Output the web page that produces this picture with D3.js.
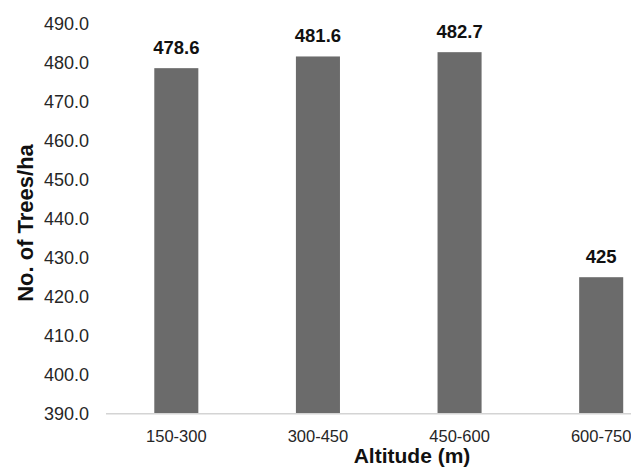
<!DOCTYPE html>
<html>
<head>
<meta charset="utf-8">
<script src="https://cdn.jsdelivr.net/npm/d3@7"></script>
<style>
  html, body { margin: 0; padding: 0; background: #fff; }
  svg { display: block; font-family: "Liberation Sans", Arial, sans-serif; }
</style>
</head>
<body>
<svg id="chart" width="631" height="467"></svg>
<script>
const categories = ["150-300", "300-450", "450-600", "600-750"];
const values = [478.6, 481.6, 482.7, 425];
const valueLabels = ["478.6", "481.6", "482.7", "425"];
const yTicks = [390, 400, 410, 420, 430, 440, 450, 460, 470, 480, 490];
const xTitle = "Altitude (m)";
const yTitle = "No. of Trees/ha";

const svg = d3.select("#chart");

const x = d3.scaleBand()
  .domain(categories)
  .range([105.5, 672])
  .paddingInner(0.689)
  .paddingOuter(0.689 / 2);

const y = d3.scaleLinear()
  .domain([390, 490])
  .range([413.7, 23.7]);

// y-axis labels (no line)
const yAxis = d3.axisLeft(y).tickValues(yTicks).tickFormat(d3.format(".1f")).tickSize(0).tickPadding(0);
const yg = svg.append("g").attr("transform", "translate(89,0)").call(yAxis);
yg.select(".domain").remove();
yg.selectAll("text")
  .attr("font-size", "18px")
  .attr("font-family", "Liberation Sans, Arial, sans-serif")
  .attr("fill", "#262626")
  .attr("dy", "0.34em");

// bars
svg.append("g").selectAll("rect")
  .data(categories)
  .join("rect")
  .attr("x", d => x(d))
  .attr("width", x.bandwidth())
  .attr("y", (d, i) => y(values[i]))
  .attr("height", (d, i) => y(390) - y(values[i]))
  .attr("fill", "#6b6b6b");

// x axis
const xAxis = d3.axisBottom(x).tickSize(0).tickPadding(0);
const xg = svg.append("g").attr("transform", `translate(0,${y(390)})`).call(xAxis);
xg.select(".domain").remove();
xg.selectAll("text")
  .attr("font-size", "16.5px")
  .attr("font-family", "Liberation Sans, Arial, sans-serif")
  .attr("fill", "#262626")
  .attr("dy", "0")
  .attr("y", 28);

svg.append("line")
  .attr("x1", 106).attr("x2", 631)
  .attr("y1", y(390)).attr("y2", y(390))
  .attr("stroke", "#d4d4d4").attr("stroke-width", 1.5);

// value labels
svg.append("g").selectAll("text")
  .data(categories)
  .join("text")
  .attr("x", d => x(d) + x.bandwidth() / 2)
  .attr("y", (d, i) => y(values[i]) - 14)
  .attr("text-anchor", "middle")
  .attr("font-size", "18.5px")
  .attr("font-weight", "bold")
  .attr("fill", "#111")
  .text((d, i) => valueLabels[i]);

// axis titles
svg.append("text")
  .attr("x", 412).attr("y", 463)
  .attr("text-anchor", "middle")
  .attr("font-size", "21px")
  .attr("font-weight", "bold")
  .attr("fill", "#111")
  .text(xTitle);

svg.append("text")
  .attr("transform", "translate(33,223) rotate(-90)")
  .attr("text-anchor", "middle")
  .attr("font-size", "22px")
  .attr("font-weight", "bold")
  .attr("fill", "#111")
  .text(yTitle);
</script>
</body>
</html>
